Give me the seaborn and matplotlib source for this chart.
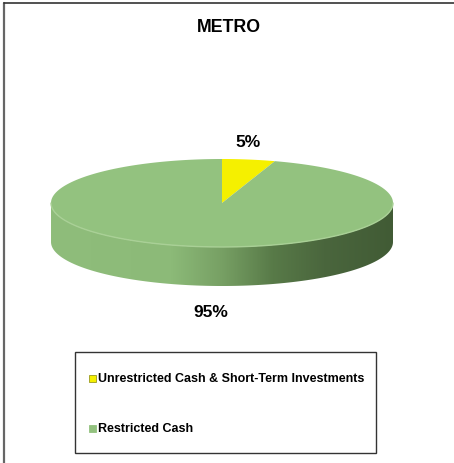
import numpy as np
import matplotlib
matplotlib.use("Agg")
import matplotlib.pyplot as plt
from matplotlib.patches import Polygon, Rectangle
from matplotlib.colors import LinearSegmentedColormap
import seaborn as sns

# ---- data ----
title = "METRO"
categories = ["Unrestricted Cash & Short-Term Investments", "Restricted Cash"]
values = [5, 95]
pct_labels = ["5%", "95%"]
colors = ["#F5F000", "#93C27F"]

sns.set_style("white")
plt.rcParams["font.family"] = ["Liberation Sans", "DejaVu Sans"]

W, H = 454, 464
fig = plt.figure(figsize=(W / 100, H / 100), dpi=100)
ax = fig.add_axes([0, 0, 1, 1])
ax.set_xlim(0, W)
ax.set_ylim(H, 0)
ax.axis("off")

# pie geometry (pixel units)
cx, cy, a, b, depth = 222, 204, 171, 44, 39

def pt(theta_deg):
    t = np.radians(theta_deg)
    return cx + a * np.sin(t), cy - b * np.cos(t)

# side (front half) with gradient
th = np.linspace(90, 270, 200)
top_edge = np.array([pt(t) for t in th])
bot_edge = top_edge[::-1] + np.array([0, depth])
side_poly = Polygon(np.vstack([top_edge, bot_edge]), closed=True, facecolor="none",
                    edgecolor="none")
ax.add_patch(side_poly)
side_cmap = LinearSegmentedColormap.from_list(
    "side", [(0.0, "#8FBD7B"), (0.35, "#8CBA78"), (0.5, "#77A064"),
             (0.65, "#587A48"), (0.8, "#4A663D"), (1.0, "#415B35")])
grad = np.linspace(0, 1, 256).reshape(1, -1)
im = ax.imshow(grad, cmap=side_cmap, extent=[cx - a, cx + a, cy + b + depth + 2, cy - 2],
               aspect="auto", interpolation="bilinear", zorder=1)
im.set_clip_path(side_poly)

# top faces
start = 0.0
total = float(sum(values))
for v, c in zip(values, colors):
    span = 360.0 * v / total
    ts = np.linspace(start, start + span, max(int(span * 2), 4))
    pts = [(cx, cy)] + [pt(t) for t in ts]
    ax.add_patch(Polygon(pts, closed=True, facecolor=c, edgecolor="none", zorder=2))
    start += span

# light rim on top front edge
ax.plot(top_edge[:, 0], top_edge[:, 1], color="#A9D096", lw=1.0, zorder=3)

# percentage labels
ax.text(248, 143, pct_labels[0], ha="center", va="center", fontsize=12.5,
        fontweight="bold", color="black", zorder=4)
ax.text(210.5, 313, pct_labels[1], ha="center", va="center", fontsize=12.5,
        fontweight="bold", color="black", zorder=4)

# title
ax.text(229, 28, title, ha="center", va="center", fontsize=12.8, fontweight="bold",
        color="black")

# legend box
ax.add_patch(Rectangle((75, 353), 301, 101, facecolor="white", edgecolor="#333333",
                       lw=1.0, zorder=4))
leg_y = [379, 429]
for lab, c, y in zip(categories, colors, leg_y):
    ax.add_patch(Rectangle((89, y - 3.5), 7, 7, facecolor=c,
                           edgecolor="#9a9a20" if c == colors[0] else c, lw=0.6, zorder=5))
    ax.text(98, y, lab, ha="left", va="center", fontsize=9.0, fontweight="bold",
            color="black", zorder=5)

# outer border (left and top)
ax.plot([3.5, 3.5], [3.5, H], color="#666666", lw=1.6)
ax.plot([3.5, W], [3.5, 3.5], color="#333333", lw=1.2)

fig.savefig("out.png", dpi=100)
